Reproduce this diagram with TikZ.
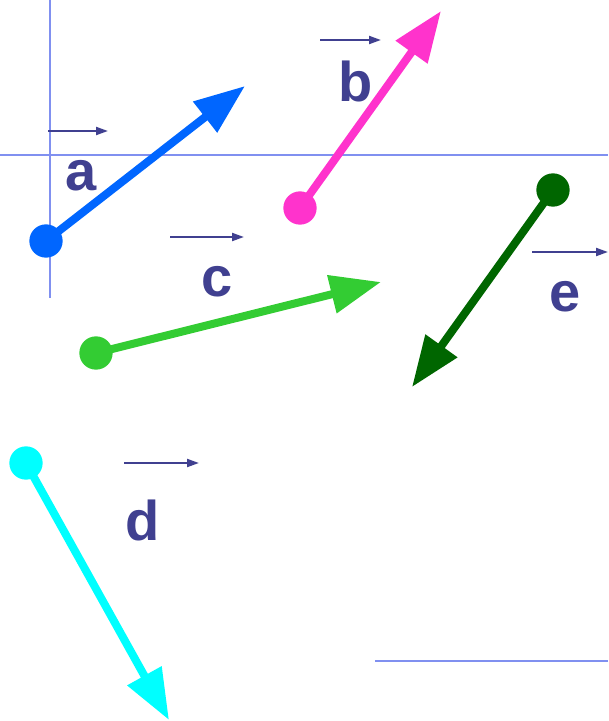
\documentclass[tikz,border=0pt]{standalone}
\usepackage{fontspec}
\setmainfont{Liberation Sans}
\usetikzlibrary{arrows.meta}
\definecolor{vecblue}{RGB}{0,102,255}
\definecolor{vecpink}{RGB}{255,51,204}
\definecolor{vecgreen}{RGB}{51,204,51}
\definecolor{vecdark}{RGB}{0,102,0}
\definecolor{veccyan}{RGB}{0,255,255}
\definecolor{labelcol}{RGB}{64,64,144}
\definecolor{axiscol}{RGB}{128,144,240}
\tikzset{
  vec arrow/.style={
    -{Triangle[length=38pt,width=28pt]}, line width=6pt
  },
  tail dot/.style={
    circle, fill=#1, inner sep=0pt, minimum size=25pt
  },
  small arrow/.style={
    -{Triangle[length=9pt,width=6pt]}, line width=1.5pt, draw=labelcol
  },
  vec label/.style={
    text=labelcol, font=\fontsize{42}{48}\selectfont\bfseries
  },
  axis line/.style={
    line width=1.5pt, draw=axiscol
  },
}
\begin{document}
\begin{tikzpicture}[x=0.75pt, y=-0.75pt]
  \useasboundingbox (0,0) rectangle (608,721);

  % Axis lines
  \draw[axis line] (50,0) -- (50,298);
  \draw[axis line] (0,155) -- (608,155);
  \draw[axis line] (375,661) -- (608,661);

  % Vector a
  \node[tail dot=vecblue] (a0) at (46,241) {};
  \coordinate (a1) at (245,86);
  \draw[vec arrow, vecblue] (a0.center) -- (a1);
  \coordinate (sa0) at (48,131);
  \coordinate (sa1) at (108,131);
  \draw[small arrow] (sa0) -- (sa1);
  \node[vec label] (la) at (81,176) {a};

  % Vector b
  \node[tail dot=vecpink] (b0) at (300,208) {};
  \coordinate (b1) at (441,11);
  \draw[vec arrow, vecpink] (b0.center) -- (b1);
  \coordinate (sb0) at (320,40);
  \coordinate (sb1) at (381,40);
  \draw[small arrow] (sb0) -- (sb1);
  \node[vec label] (lb) at (356,81) {b};

  % Vector c
  \node[tail dot=vecgreen] (c0) at (96,353) {};
  \coordinate (c1) at (381,282);
  \draw[vec arrow, vecgreen] (c0.center) -- (c1);
  \coordinate (sc0) at (170,237);
  \coordinate (sc1) at (244,237);
  \draw[small arrow] (sc0) -- (sc1);
  \node[vec label] (lc) at (217,282) {c};

  % Vector d
  \node[tail dot=veccyan] (d0) at (26,463) {};
  \coordinate (d1) at (169,720);
  \draw[vec arrow, veccyan] (d0.center) -- (d1);
  \coordinate (sd0) at (124,463);
  \coordinate (sd1) at (199,463);
  \draw[small arrow] (sd0) -- (sd1);
  \node[vec label] (ld) at (143,520) {d};

  % Vector e
  \node[tail dot=vecdark] (e0) at (553,190) {};
  \coordinate (e1) at (412,387);
  \draw[vec arrow, vecdark] (e0.center) -- (e1);
  \coordinate (se0) at (532,252);
  \coordinate (se1) at (608,252);
  \draw[small arrow] (se0) -- (se1);
  \node[vec label] (le) at (565,297) {e};

\end{tikzpicture}
\end{document}
